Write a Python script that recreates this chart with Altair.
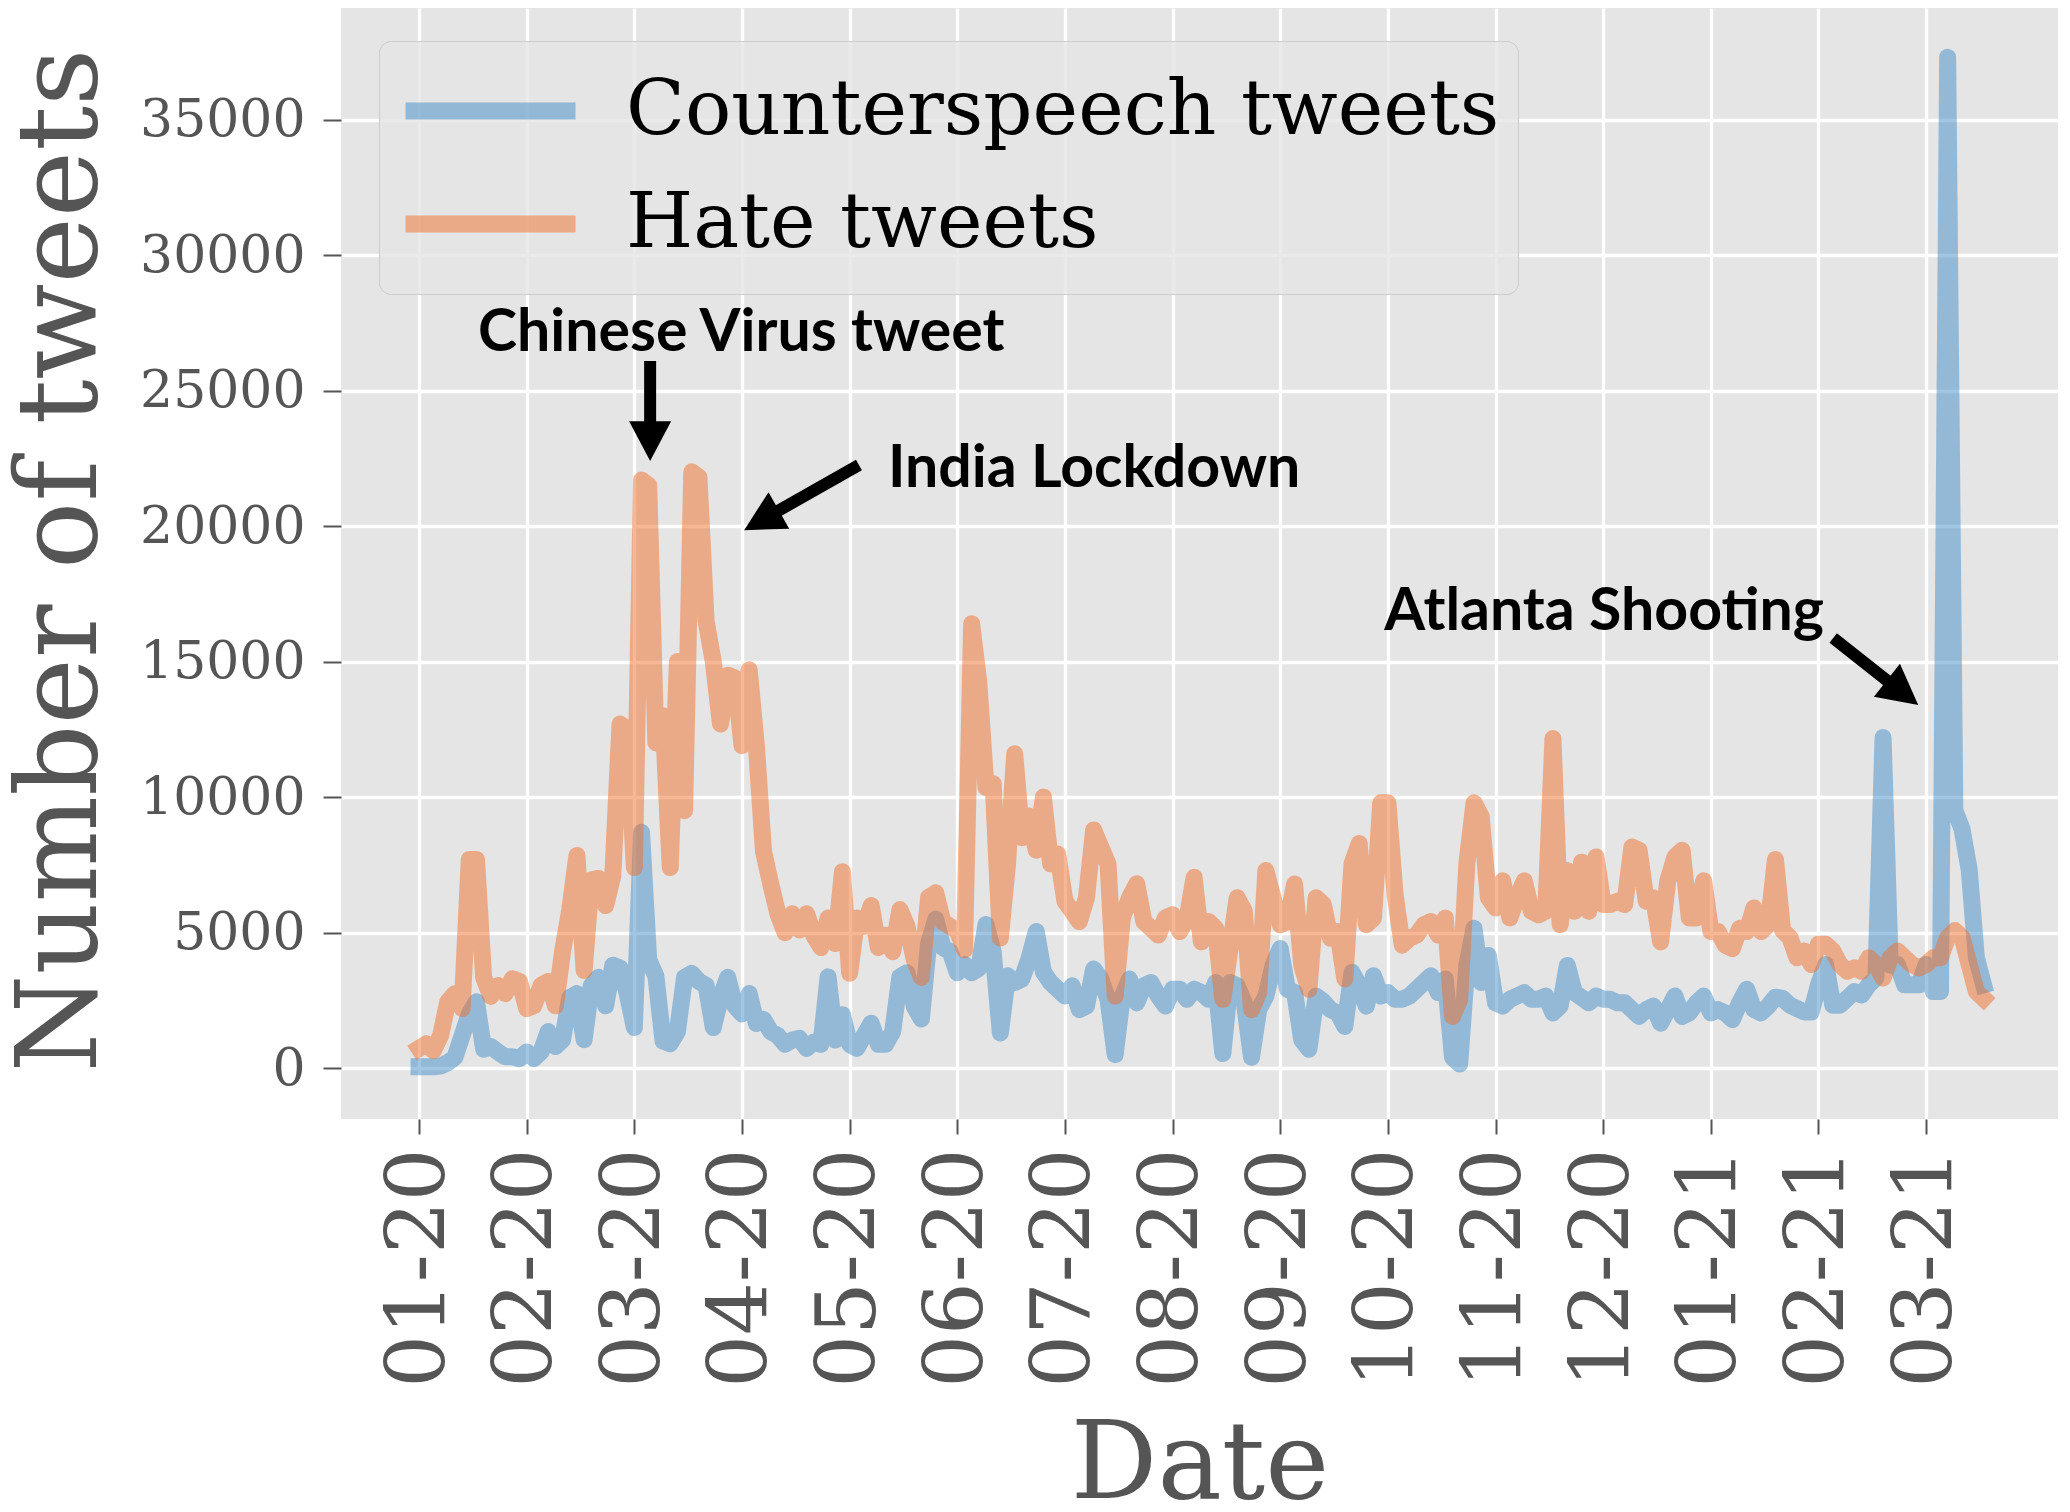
import altair as alt
import pandas as pd

SERIES = ["Counterspeech tweets", "Hate tweets"]
COLORS = ["#418DC7", "#EF6F2B"]

# daily counts sampled every 2 days, starting at day 0 (first tick "01-20")
COUNTER = [
    50, 50, 50, 80, 200, 400, 1200, 2000, 2450, 700,
    800, 600, 420, 420, 350, 600, 350, 600, 1350, 800,
    1050, 2600, 2750, 1050, 3050, 3350, 2300, 3800, 3700, 2750,
    1500, 8700, 4000, 3400, 1000, 900, 1350, 3350, 3500, 3200,
    3050, 1500, 2600, 3350, 2300, 2000, 2750, 1650, 1800, 1350,
    1200, 880, 1040, 1100, 730, 960, 880, 3370, 1040, 1970,
    880, 730, 1200, 1660, 880, 880, 1350, 3370, 3520, 2280,
    1815, 4600, 5500, 4450, 4300, 3520, 3830, 3520, 3680, 5300,
    4300, 1300, 3410, 3160, 3290, 4040, 5040, 3540, 3160, 2910,
    2660, 3040, 2160, 2290, 3660, 3290, 2540, 500, 2660, 3290,
    2410, 3040, 3160, 2660, 2290, 2910, 2910, 2540, 2910, 2790,
    2540, 3160, 540, 3160, 3040, 2410, 400, 2160, 2660, 3790,
    4410, 2910, 2790, 1040, 700, 2660, 2460, 2160, 2040, 1540,
    3540, 3040, 2290, 3410, 2660, 2790, 2540, 2540, 2660, 2910,
    3160, 3410, 2790, 3290, 400, 150, 3790, 5160, 3160, 4160,
    2410, 2290, 2540, 2660, 2790, 2540, 2540, 2660, 2040, 2290,
    3790, 2790, 2600, 2410, 2660, 2540, 2540, 2410, 2410, 2160,
    1910, 2160, 2290, 1660, 2160, 2660, 1910, 2040, 2410, 2660,
    2040, 2160, 2040, 1790, 2410, 2910, 2160, 2040, 2290, 2620,
    2575, 2325, 2200, 2075, 2075, 3075, 3825, 2325, 2325, 2575,
    2825, 2700, 3075, 3325, 12200, 3800, 3825, 3075, 3075, 3075,
    3825, 2825, 2825, 37300, 9500, 8825, 7325, 4075, 3075,
]
HATE = [
    730, 900, 650, 1200, 2450, 2750, 2200, 7700, 7700, 3350,
    2650, 3050, 2750, 3300, 3200, 2200, 2300, 3050, 3200, 2300,
    4300, 5850, 7850, 3600, 6950, 7000, 6000, 7100, 12700, 12500,
    7400, 21700, 21500, 12000, 13000, 7400, 15000, 9500, 22000, 21800,
    16500, 15000, 12700, 14500, 14400, 11900, 14700, 11900, 8000, 6800,
    5700, 5000, 5700, 5100, 5700, 4900, 4450, 5540, 4600, 7250,
    3500, 5540, 5230, 6000, 4450, 4900, 4300, 5850, 5230, 4000,
    3350, 6300, 6470, 5390, 5230, 5070, 4370, 16400, 14230, 10350,
    10500, 4800, 7540, 11600, 8500, 9300, 8040, 10000, 7540, 7900,
    6160, 5790, 5410, 6290, 8790, 8160, 7540, 2660, 5540, 6290,
    6800, 5410, 5160, 4910, 5540, 5660, 5040, 5500, 7040, 4660,
    5410, 5160, 2540, 4410, 6290, 5790, 2160, 2790, 7290, 6290,
    5290, 5410, 6790, 3790, 2910, 6290, 6040, 4790, 5040, 3290,
    7540, 8290, 5290, 5540, 9790, 9790, 6410, 4540, 4790, 4910,
    5290, 5410, 4910, 5540, 1910, 2540, 7540, 9790, 9290, 6290,
    5910, 6910, 5540, 6290, 6910, 5790, 5660, 5790, 12160, 5290,
    7290, 5790, 7600, 5790, 7790, 6040, 6040, 6160, 6040, 8160,
    8040, 6160, 6290, 4660, 6910, 7790, 8040, 5540, 5540, 6910,
    5040, 5040, 4540, 4410, 5160, 5040, 5910, 5040, 5290, 7700,
    5075, 4825, 4075, 4325, 3825, 4575, 4575, 4325, 3825, 3575,
    3700, 3575, 4075, 3825, 3325, 4075, 4325, 4075, 3825, 3700,
    3825, 4075, 4075, 4825, 5075, 4825, 3825, 2825, 2575,
]
DAY_STEP = 2

TICK_DAYS = [0, 30, 60, 90, 120, 150, 180, 210, 240, 270, 300, 330, 360, 390, 420]
TICK_LABELS = ["01-20", "02-20", "03-20", "04-20", "05-20", "06-20", "07-20", "08-20",
               "09-20", "10-20", "11-20", "12-20", "01-21", "02-21", "03-21"]
Y_TICKS = [0, 5000, 10000, 15000, 20000, 25000, 30000, 35000]

# annotations (data coordinates: day, count)
ANN_TEXT = ["Chinese Virus tweet", "India Lockdown", "Atlanta Shooting"]
ANN_DAY = [16.4, 130.7, 269.0]
ANN_VAL = [26460, 21440, 16160]

ARROW_TAIL_DAY = [64.4, 122.6, 394.1]
ARROW_TAIL_VAL = [26090, 22250, 15870]
ARROW_NECK_DAY = [64.4, 97.9, 411.2]
ARROW_NECK_VAL = [23505, 20400, 14080]
ARROW_TIP_DAY = [64.4, 90.6, 417.8]
ARROW_TIP_VAL = [22400, 19850, 13400]
ARROW_ANGLE = [0, 60.5, 308.3]

# ---- build tables ----
lines = pd.concat([
    pd.DataFrame({"day": [i * DAY_STEP for i in range(len(COUNTER))], "count": COUNTER,
                  "series": SERIES[0]}),
    pd.DataFrame({"day": [i * DAY_STEP for i in range(len(HATE))], "count": HATE,
                  "series": SERIES[1]}),
], ignore_index=True)

ann = pd.DataFrame({"day": ANN_DAY, "count": ANN_VAL, "label": ANN_TEXT})
shafts = pd.DataFrame({"day": ARROW_TAIL_DAY, "count": ARROW_TAIL_VAL,
                       "day2": ARROW_NECK_DAY, "count2": ARROW_NECK_VAL})
heads = pd.DataFrame({"day": ARROW_TIP_DAY, "count": ARROW_TIP_VAL, "angle": ARROW_ANGLE})

SERIF = "DejaVu Serif"
GREY = "#555555"

label_expr = "[" + ",".join("'%s'" % t for t in TICK_LABELS) + "][round(datum.value / 30)]"

xscale = alt.Scale(domain=[-21.75, 456.75], nice=False, zero=False)
yscale = alt.Scale(domain=[-1875, 39114], nice=False, zero=False)

xaxis = alt.Axis(
    values=TICK_DAYS, labelExpr=label_expr, title="Date",
    titleFont=SERIF, titleFontSize=108, titleFontWeight="normal", titleColor=GREY,
    titleY=378, titleBaseline="alphabetic",
    labelFont=SERIF, labelFontSize=83, labelColor=GREY, labelAngle=270,
    labelPadding=14, labelOverlap=False, labelFlush=False, labelLimit=600,
    tickSize=15, tickWidth=2, tickColor=GREY,
    domain=False, grid=True, gridColor="white", gridWidth=3.3,
)
yaxis = alt.Axis(
    values=Y_TICKS, format="d", title="Number of tweets",
    titleFont=SERIF, titleFontSize=112, titleFontWeight="normal", titleColor=GREY,
    titleAngle=270, titleX=-246, titleY=552, titleAlign="center", titleBaseline="alphabetic",
    titleLimit=2000,
    labelFont=SERIF, labelFontSize=52, labelColor=GREY, labelPadding=18,
    tickSize=18, tickWidth=2, tickColor=GREY,
    domain=False, grid=True, gridColor="white", gridWidth=3.3,
)

X = alt.X("day:Q", scale=xscale, axis=xaxis)
Y = alt.Y("count:Q", scale=yscale, axis=yaxis)

line_layer = alt.Chart(lines).mark_line(
    strokeWidth=17, opacity=0.5, strokeJoin="round", strokeCap="square"
).encode(
    x=X, y=Y,
    color=alt.Color(
        "series:N", sort=SERIES,
        scale=alt.Scale(domain=SERIES, range=COLORS),
        legend=alt.Legend(
            title=None, orient="none", legendX=38, legendY=33,
            symbolType="stroke", symbolSize=28900, symbolStrokeWidth=17, symbolOpacity=0.5,
            labelFont=SERIF, labelFontSize=77, labelColor="black", labelOffset=42, labelLimit=3000,
            clipHeight=104, rowPadding=9, padding=18,
            fillColor="rgba(229,229,229,0.8)", strokeColor="#CCCCCC", cornerRadius=12,
        ),
    ),
    detail="series:N",
)

text_layer = alt.Chart(ann).mark_text(
    align="left", baseline="alphabetic", font="Lato", fontWeight="bold",
    fontSize=59, color="black",
).encode(x=X, y=Y, text="label:N")

shaft_layer = alt.Chart(shafts).mark_rule(
    color="black", strokeWidth=12, strokeCap="butt"
).encode(x=X, y=Y, x2="day2:Q", y2="count2:Q")

HEAD_PATH = "M0,0L-1,-1.9L1,-1.9Z"
head_layer = alt.Chart(heads).mark_point(
    shape=HEAD_PATH, filled=True, size=1764, color="black", opacity=1, strokeWidth=0,
).encode(x=X, y=Y, angle=alt.Angle("angle:Q", scale=None))

chart = alt.layer(line_layer, shaft_layer, head_layer, text_layer).properties(
    width=1717, height=1111,
    autosize=alt.AutoSizeParams(type="none"),
    padding={"left": 333, "top": 0, "right": 0, "bottom": 385},
    background="white",
).configure_view(fill="#E5E5E5", strokeWidth=0)

chart.save("out.html", embed_options={"renderer": "svg", "actions": False})
